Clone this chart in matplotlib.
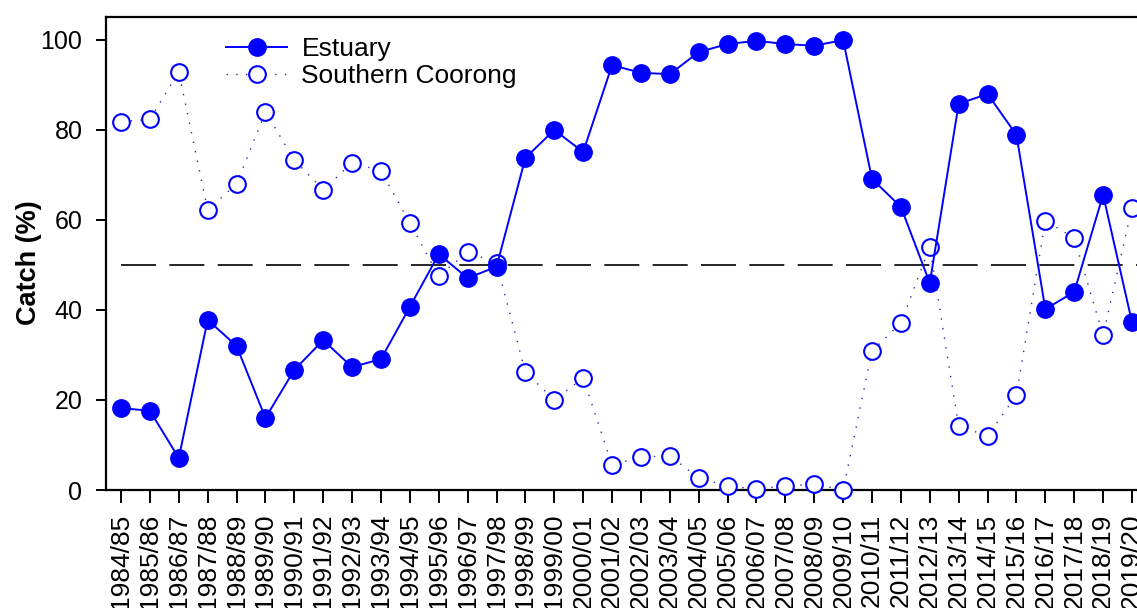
import matplotlib
matplotlib.use('Agg')
import matplotlib.pyplot as plt

plt.rcParams['font.family'] = ['Liberation Sans', 'DejaVu Sans']

seasons = ['1984/85', '1985/86', '1986/87', '1987/88', '1988/89', '1989/90',
           '1990/91', '1991/92', '1992/93', '1993/94', '1994/95', '1995/96',
           '1996/97', '1997/98', '1998/99', '1999/00', '2000/01', '2001/02',
           '2002/03', '2003/04', '2004/05', '2005/06', '2006/07', '2007/08',
           '2008/09', '2009/10', '2010/11', '2011/12', '2012/13', '2013/14',
           '2014/15', '2015/16', '2016/17', '2017/18', '2018/19', '2019/20']

estuary = [18.2, 17.6, 7.1, 37.8, 32.0, 16.0, 26.7, 33.3, 27.3, 29.1, 40.7, 52.4,
           47.1, 49.6, 73.8, 80.0, 75.1, 94.4, 92.7, 92.4, 97.3, 99.1, 99.8, 99.1,
           98.7, 100.0, 69.1, 62.9, 46.0, 85.8, 88.0, 78.9, 40.2, 44.0, 65.6, 37.3]

southern_coorong = [81.8, 82.4, 92.9, 62.2, 68.0, 84.0, 73.3, 66.7, 72.7, 70.9, 59.3, 47.6,
                    52.9, 50.4, 26.2, 20.0, 24.9, 5.6, 7.3, 7.6, 2.7, 0.9, 0.2, 0.9,
                    1.3, 0.0, 30.9, 37.1, 54.0, 14.2, 12.0, 21.1, 59.8, 56.0, 34.4, 62.7]

W, H = 1137, 608
fig = plt.figure(figsize=(W / 100, H / 100), dpi=100)
# axes runs past the right edge, like the cropped original
ax = fig.add_axes([106 / W, 1 - 490 / H, (1147 - 106) / W, (490 - 17) / H])

x = list(range(len(seasons)))

ax.plot(x, estuary, color='blue', lw=1.4, marker='o', ms=12.5, mfc='blue',
        mec='blue', label='Estuary', clip_on=False, zorder=4)
ax.plot(x, southern_coorong, color='#2a2aa0', lw=1.0, ls=(0, (1, 6)),
        marker='o', ms=12, mfc='white', mec='blue', mew=1.5,
        label='Southern Coorong', clip_on=False, zorder=3)

ax.plot([0, len(seasons)], [50, 50], color='black', lw=1.2,
        ls=(0, (21, 8)), zorder=2, clip_on=True)

ax.set_xlim(-0.52, 35.52)
ax.set_ylim(0, 105.1)
ax.set_xticks(x)
ax.set_xticklabels(seasons, rotation=90, fontsize=19)
ax.set_yticks([0, 20, 40, 60, 80, 100])
ax.tick_params(axis='y', labelsize=18, length=7, width=1.4, pad=10)
ax.tick_params(axis='x', length=9, width=1.4, pad=8)

for s in ax.spines.values():
    s.set_linewidth(1.6)

ax.set_ylabel('Catch (%)', fontsize=19.5, fontweight='bold')
ax.yaxis.set_label_coords(42 / W, 1 - 263 / H, transform=fig.transFigure)

ax.legend(loc='upper left', bbox_to_anchor=(213 / W, 1 - 24 / H),
          bbox_transform=fig.transFigure, frameon=False, fontsize=19,
          handlelength=2.3, handletextpad=0.55, labelspacing=0.12,
          borderpad=0)

fig.savefig('out.png', dpi=100)
